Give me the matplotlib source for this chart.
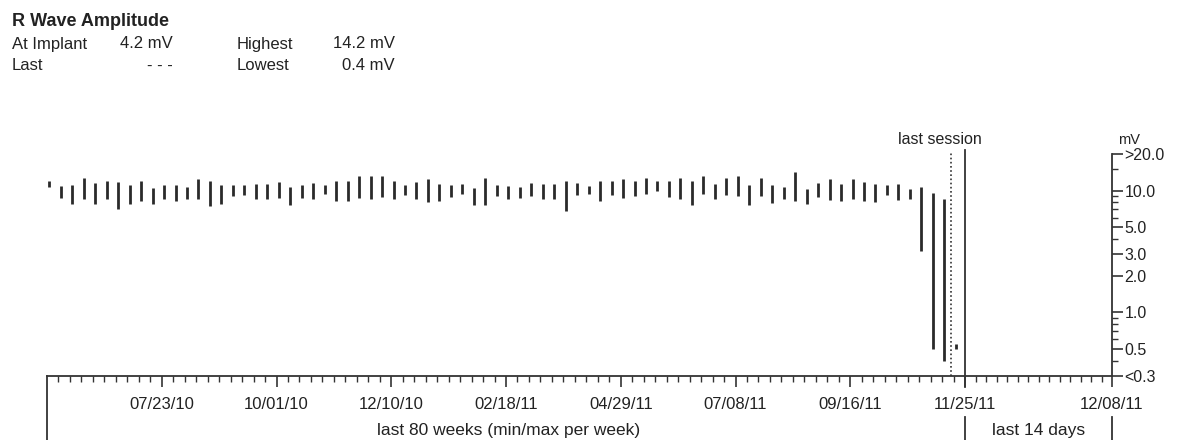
import numpy as np
import matplotlib.pyplot as plt
import matplotlib.transforms as mtransforms

plt.rcParams['font.family'] = ['Liberation Sans', 'DejaVu Sans']

# weekly min / max R wave amplitude in mV, oldest week first (80 weeks)
week_max = [12.1, 10.9, 11.1, 12.6, 11.5, 12.1, 11.7, 11.1, 12.1, 10.5,
            11.1, 11.1, 10.7, 12.4, 12.1, 11.1, 11.1, 11.1, 11.3, 11.3,
            11.7, 10.7, 11.1, 11.5, 11.1, 11.9, 12.1, 13.3, 13.1, 13.3,
            12.1, 11.1, 11.7, 12.4, 11.3, 11.1, 11.3, 10.5, 12.8, 11.1,
            10.9, 10.7, 11.5, 11.3, 11.3, 11.9, 11.5, 10.9, 12.1, 12.1,
            12.4, 12.1, 12.8, 12.1, 12.1, 12.8, 12.1, 13.3, 11.3, 12.8,
            13.3, 11.1, 12.6, 11.1, 10.7, 14.2, 10.3, 11.5, 12.4, 11.3,
            12.4, 11.7, 11.3, 11.1, 11.3, 10.3, 10.7, 9.5, 8.5, 0.55]
week_min = [10.7, 8.7, 7.8, 8.5, 7.8, 8.5, 7.1, 7.8, 8.2, 7.8,
            8.5, 8.2, 8.5, 8.5, 7.5, 7.8, 9.0, 9.2, 8.5, 8.5,
            8.7, 7.6, 8.7, 8.5, 9.4, 8.2, 8.2, 8.7, 8.5, 8.9,
            8.5, 9.2, 8.5, 8.1, 8.2, 8.9, 9.4, 7.6, 7.6, 9.0,
            8.5, 8.7, 9.0, 8.5, 8.5, 6.8, 9.2, 9.4, 8.2, 9.2,
            8.7, 9.0, 9.4, 9.9, 8.9, 8.5, 7.6, 9.4, 8.5, 9.2,
            9.0, 7.6, 9.0, 7.9, 8.5, 8.2, 7.8, 8.9, 8.4, 8.2,
            8.5, 8.2, 8.1, 9.2, 8.4, 8.5, 3.2, 0.5, 0.4, 0.5]

date_labels = ['07/23/10', '10/01/10', '12/10/10', '02/18/11', '04/29/11',
               '07/08/11', '09/16/11', '11/25/11', '12/08/11']
mv_ticks = [20, 10, 5, 3, 2, 1, 0.5, 0.3]
mv_labels = ['>20.0', '10.0', '5.0', '3.0', '2.0', '1.0', '0.5', '<0.3']
mv_minor = [15, 9, 8, 7, 6, 4, 0.9, 0.8, 0.7, 0.6, 0.4]

n_weeks = 80
n_days = 14
day_w = 0.915        # one day, in week units, on the 14 day part
last_session = 78.8  # week position of the last session marker
x_end = n_weeks + n_days * day_w

W, H = 1191, 440
fig = plt.figure(figsize=(W / 100, H / 100), dpi=100)
ax = fig.add_axes([47 / W, (H - 376) / H, (1112 - 47) / W, (376 - 154) / H])

ink = '#222222'
line = '#333333'

# min/max bar per week
xs = np.arange(n_weeks) + 0.2
ax.vlines(xs, week_min, week_max, color='#2a2a2a', lw=2.0)

ax.set_yscale('log')
ax.set_ylim(0.3, 20)
ax.set_xlim(0, x_end)

for s in ['left', 'top']:
    ax.spines[s].set_visible(False)
for s in ['bottom', 'right']:
    ax.spines[s].set_color(line)
    ax.spines[s].set_linewidth(1.3)

# right axis in mV
ax.yaxis.tick_right()
ax.set_yticks(mv_ticks)
ax.set_yticklabels(mv_labels)
ax.set_yticks(mv_minor, minor=True)
ax.set_yticklabels([], minor=True)
ax.tick_params(axis='y', which='major', length=8, width=1.2, pad=1,
               labelsize=11.5, colors=line, labelcolor=ink)
ax.tick_params(axis='y', which='minor', length=4, width=1.0, colors=line)

# bottom axis: weekly ticks, then daily ticks
major_x = [10, 20, 30, 40, 50, 60, 70, n_weeks, x_end]
minor_x = [w for w in range(1, n_weeks) if w % 10] + \
          [n_weeks + d * day_w for d in range(1, n_days)]
ax.set_xticks(major_x)
ax.set_xticklabels(date_labels)
ax.set_xticks(minor_x, minor=True)
ax.tick_params(axis='x', which='major', length=8, width=1.2, pad=7,
               labelsize=12, colors=line, labelcolor=ink)
ax.tick_params(axis='x', which='minor', length=4, width=1.0, colors=line)

tr = mtransforms.blended_transform_factory(ax.transData, ax.transAxes)

# last session markers
ax.axvline(last_session, ymin=0, ymax=1.01, color=line, lw=1.2,
           ls=(0, (1, 1.5)), clip_on=False)
ax.axvline(n_weeks, ymin=-0.05, ymax=1.02, color=line, lw=1.3,
           clip_on=False)
ax.text(last_session - 1.0, 1.065, 'last session', transform=tr,
        ha='center', va='center', fontsize=11.5, color=ink)

# brackets under the axis
ax.plot([0, 0], [0, -0.29], color=line, lw=1.3, transform=tr, clip_on=False)
for xb in [n_weeks, x_end]:
    ax.plot([xb, xb], [-0.185, -0.29], color=line, lw=1.3,
            transform=tr, clip_on=False)
ax.text(40.2, -0.245, 'last 80 weeks (min/max per week)', transform=tr,
        ha='center', va='center', fontsize=12.5, color=ink)
ax.text((n_weeks + x_end) / 2, -0.245, 'last 14 days', transform=tr,
        ha='center', va='center', fontsize=12.5, color=ink)
ax.text(x_end + 0.5, 1.03, 'mV', transform=tr, ha='left', va='bottom',
        fontsize=10.5, color=ink)

# header block
def put(x, y, s, **kw):
    fig.text(x / W, 1 - y / H, s, va='center', color=ink, **kw)

put(12, 21, 'R Wave Amplitude', fontsize=13, fontweight='bold')
put(12, 44, 'At Implant', fontsize=12)
put(173, 44, '4.2 mV', fontsize=12, ha='right')
put(12, 66, 'Last', fontsize=12)
put(173, 66, '- - -', fontsize=12, ha='right')
put(237, 44, 'Highest', fontsize=12)
put(395, 44, '14.2 mV', fontsize=12, ha='right')
put(237, 66, 'Lowest', fontsize=12)
put(395, 66, '0.4 mV', fontsize=12, ha='right')

fig.savefig('out.png', dpi=100)
